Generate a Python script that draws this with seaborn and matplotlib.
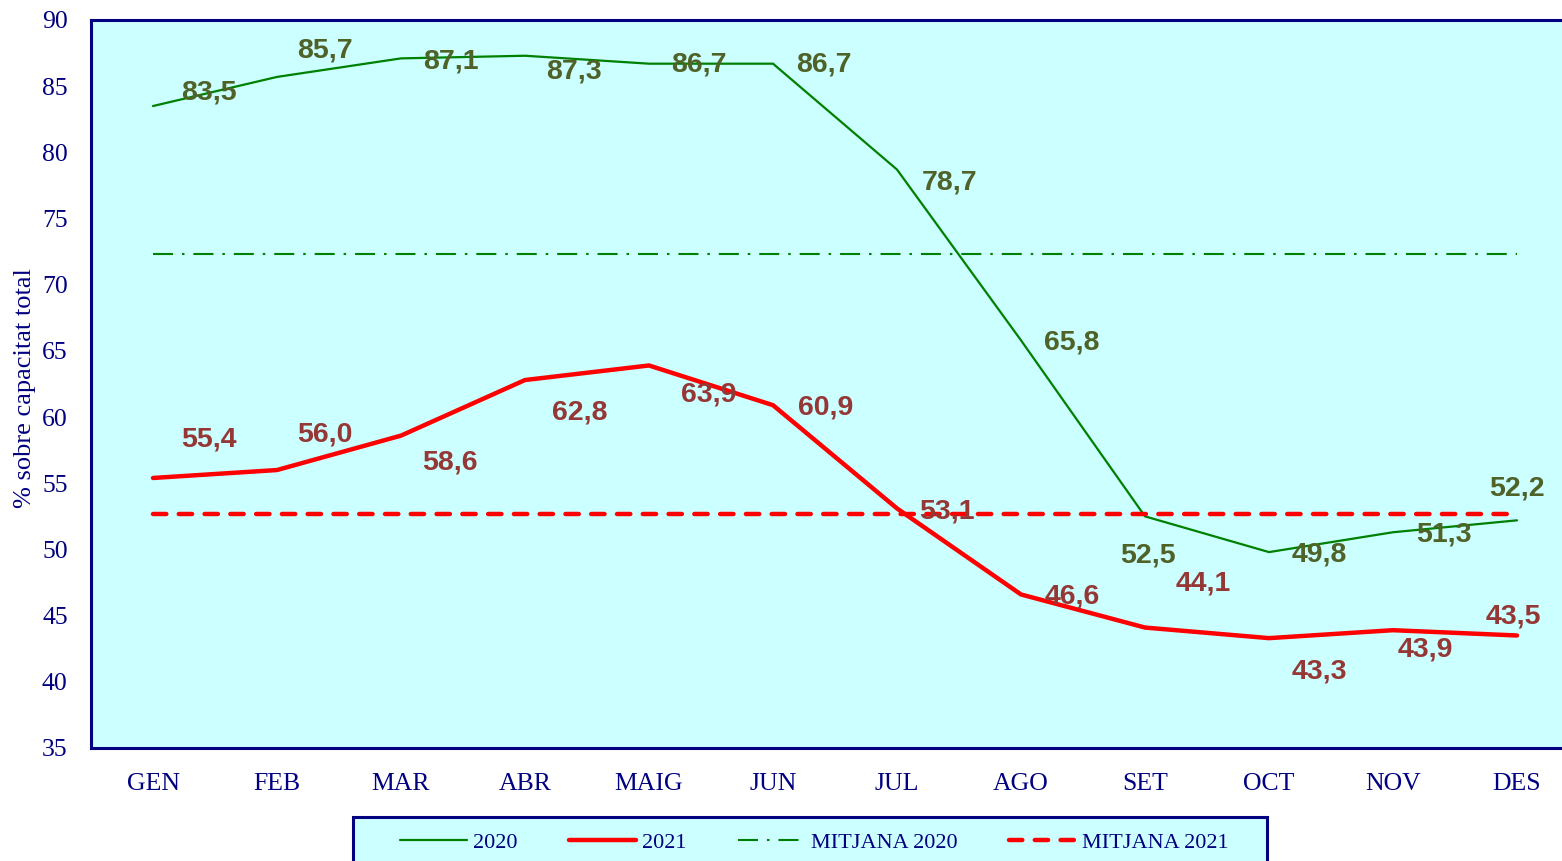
import seaborn as sns
import matplotlib.pyplot as plt
from matplotlib.patches import Rectangle
import pandas as pd

# data
months = ["GEN", "FEB", "MAR", "ABR", "MAIG", "JUN", "JUL", "AGO", "SET", "OCT", "NOV", "DES"]
vals_2020 = [83.5, 85.7, 87.1, 87.3, 86.7, 86.7, 78.7, 65.8, 52.5, 49.8, 51.3, 52.2]
vals_2021 = [55.4, 56.0, 58.6, 62.8, 63.9, 60.9, 53.1, 46.6, 44.1, 43.3, 43.9, 43.5]
mean_2020 = 72.3
mean_2021 = 52.7

# label offsets in pixels (dx, dy up)
off_2020 = [(56, 14), (48, 26), (50, -3), (49, -16), (50, -1), (51, -1),
            (53, -13), (51, -2), (3, -39), (50, -2), (51, -2), (0, 32)]
off_2021 = [(56, 38), (48, 36), (49, -27), (55, -32), (60, -29), (53, -2),
            (50, -3), (51, -2), (58, 44), (50, -33), (32, -19), (-4, 19)]

navy = "#000080"
bg = "#CCFFFF"
green_lbl = "#4F6228"
red_lbl = "#953735"

df = pd.DataFrame({"pos": range(len(months)), "month": months,
                   "y2020": vals_2020, "y2021": vals_2021,
                   "m2020": [mean_2020] * len(months),
                   "m2021": [mean_2021] * len(months)})

sns.set_style("white")
plt.rcParams["font.family"] = ["Liberation Serif", "DejaVu Serif"]

fig = plt.figure(figsize=(15.62, 8.61), dpi=100)
ax = fig.add_axes([91 / 1562, 1 - 748 / 861, 1488 / 1562, 728 / 861])
ax.set_facecolor(bg)

sns.lineplot(data=df, x="pos", y="y2020", color="#008000", lw=1.6, label="2020", ax=ax)
sns.lineplot(data=df, x="pos", y="y2021", color="#FF0000", lw=3.2, label="2021", ax=ax)
sns.lineplot(data=df, x="pos", y="m2020", color="#008000", lw=1.5, label="MITJANA 2020",
             dashes=False, ax=ax)
sns.lineplot(data=df, x="pos", y="m2021", color="#FF0000", lw=3.2, label="MITJANA 2021",
             dashes=False, ax=ax)
lines = ax.get_lines()
lines[2].set_dashes([9.6, 4.3, 1.2, 4.3])
lines[3].set_dashes([3.0, 2.8])
lines[3].set_dash_capstyle("round")
for ln in lines[:2]:
    ln.set_solid_capstyle("round")

for i, v in enumerate(vals_2020):
    ax.annotate(f"{v:.1f}".replace(".", ","), (i, v), xytext=off_2020[i],
                textcoords="offset pixels", ha="center", va="center",
                fontsize=20.5, fontweight="bold", color=green_lbl, family="Liberation Sans")
for i, v in enumerate(vals_2021):
    ax.annotate(f"{v:.1f}".replace(".", ","), (i, v), xytext=off_2021[i],
                textcoords="offset pixels", ha="center", va="center",
                fontsize=20.5, fontweight="bold", color=red_lbl, family="Liberation Sans")

ax.set_xlim(-0.5, 11.5)
ax.set_ylim(35, 90)
ax.set_yticks(range(35, 91, 5))
ax.set_xticks([i - 0.5 for i in range(13)])
ax.set_xticklabels([])
ax.set_xticks(range(12), minor=True)
ax.set_xticklabels(months, minor=True)
ax.tick_params(axis="x", which="minor", length=0, pad=18, labelsize=18.5, labelcolor=navy)
ax.tick_params(axis="x", which="major", direction="inout", length=11.5, width=1.2, color="#3c3ca0")
ax.tick_params(axis="y", direction="inout", length=11.5, width=1.2, color="#3c3ca0",
               pad=11, labelsize=18.5, labelcolor=navy)
ax.set_xlabel("")
ax.set_ylabel("")
for s in ["left", "top", "bottom"]:
    ax.spines[s].set_color(navy)
    ax.spines[s].set_linewidth(2.2)
ax.spines["right"].set_visible(False)

fig.text(25 / 1562, 1 - 388 / 861, "% sobre capacitat total", rotation=90,
         ha="center", va="center", fontsize=19, color=navy)

# legend box at bottom, cut by the figure edge
handles, labels = ax.get_legend_handles_labels()
ax.get_legend().remove()
fig.patches.append(Rectangle((353 / 1562, -0.05), 914 / 1562, 44 / 861 + 0.05,
                             transform=fig.transFigure, facecolor=bg, edgecolor=navy,
                             lw=2.2, zorder=0))
leg = fig.legend(handles, labels, loc="center left", bbox_to_anchor=(400 / 1562, 1 - 843 / 861),
                 ncol=4, frameon=False, fontsize=16, handlelength=3.0, handletextpad=0.3,
                 columnspacing=2.3, borderpad=0, borderaxespad=0)
for t in leg.get_texts():
    t.set_color(navy)

fig.savefig("out.png", dpi=100)
